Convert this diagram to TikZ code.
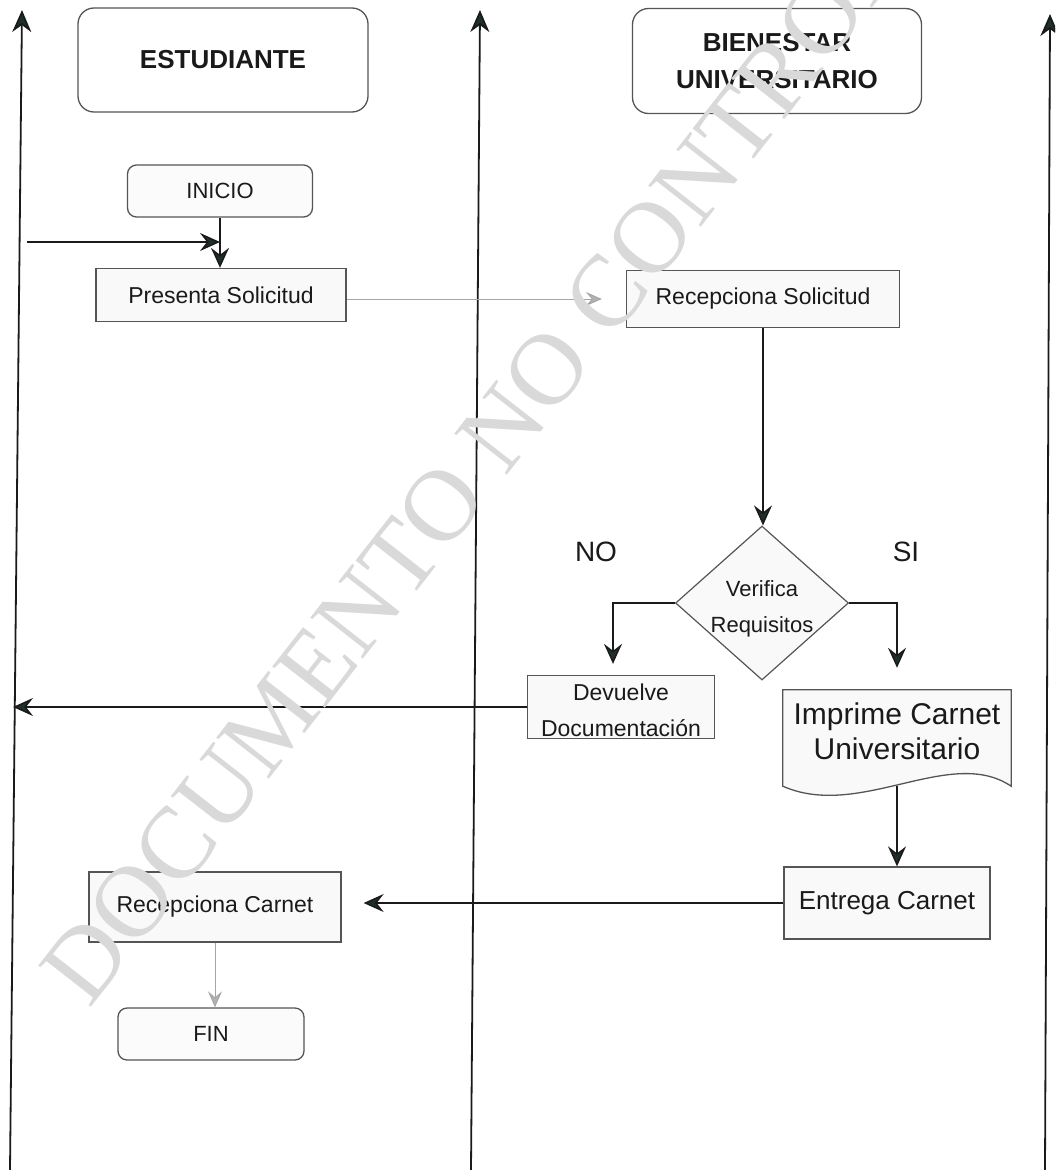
\documentclass[tikz,border=0pt]{standalone}
\usepackage{fontspec}
\setmainfont{Liberation Sans}
\newfontfamily\wmfont{Liberation Serif}
\usepackage{tikz}
\usepackage{xcolor}
\usetikzlibrary{arrows.meta}
\usetikzlibrary{shapes.geometric}

\definecolor{ink}{HTML}{1A1A1A}
\definecolor{tipc}{HTML}{1E302A}
\definecolor{edge}{HTML}{555555}

\tikzset{
  lane/.style={line width=1.8pt, draw=ink, -{Stealth[length=22pt,width=19pt,inset=7pt,fill=tipc]}},
  flow/.style={line width=1.5pt, draw=ink, -{Stealth[length=20pt,width=18pt,inset=7pt,fill=tipc]}},
  softflow/.style={line width=1pt, draw=gray!70, -{Stealth[length=16pt,width=14pt,inset=6pt,fill=gray!60]}},
  head/.style={draw=edge, line width=1.3pt, rounded corners=16pt, fill=white, align=center, font=\fontsize{26}{37}\selectfont\bfseries, text=ink},
  term/.style={draw=edge, line width=1.3pt, rounded corners=9pt, fill=gray!3, font=\fontsize{22}{30}\selectfont, text=ink},
  proc/.style={draw=edge, line width=1.3pt, fill=gray!5, align=center, font=\fontsize{23}{36}\selectfont, text=ink},
  decision/.style={diamond, draw=edge, line width=1.2pt, fill=gray!5, inner sep=0pt},
  ans/.style={font=\fontsize{28}{32}\selectfont, text=ink},
  docbox/.style={minimum width=228pt, minimum height=96pt, inner sep=0pt},
}

\begin{document}
\begin{tikzpicture}[x=1pt,y=-1pt]
\useasboundingbox (0,0) rectangle (1055,1170);
\clip (0,0) rectangle (1055,1170);

% carriles
\draw[lane] (10,1170) -- (22,10);
\draw[lane] (471,1170) -- (480,10);
\draw[lane] (1045,1170) -- (1050,14);

% encabezados
\node[head, minimum width=290pt, minimum height=104pt] (est) at (223,60) {ESTUDIANTE};
\node[head, minimum width=289pt, minimum height=105pt] (bien) at (777,61) {BIENESTAR\\UNIVERSITARIO};

% estudiante
\node[term, minimum width=185pt, minimum height=52pt] (inicio) at (220,191) {INICIO};
\node[proc, minimum width=250pt, minimum height=53pt] (presenta) at (221,295) {Presenta Solicitud};
\node[proc, minimum width=252pt, minimum height=70pt] (reccar) at (215,907) {Recepciona Carnet};
\node[term, minimum width=186pt, minimum height=52pt] (fin) at (211,1034) {FIN};

% bienestar
\node[proc, minimum width=273pt, minimum height=57pt] (recsol) at (763,299) {Recepciona Solicitud};
\node[decision, minimum width=173pt, minimum height=154pt] (verif) at (762,603) {};
\node[align=center, font=\fontsize{22}{36}\selectfont, text=ink] (veriftxt) at ([yshift=-6pt]verif.center) {Verifica\\Requisitos};
\node[ans] (no) at (596,552) {NO};
\node[ans] (si) at (906,552) {SI};
\node[proc, minimum width=187pt, minimum height=63pt] (devuelve) at (621,707) {};
\node[align=center, font=\fontsize{23}{36}\selectfont, text=ink] (devtxt) at ([yshift=-3pt]devuelve.center) {Devuelve\\Documentación};
\node[docbox] (imprime) at (897,738) {};
\draw[draw=edge, line width=1.3pt, fill=gray!5] (imprime.north west) -- (imprime.north east) -- (imprime.south east)
  .. controls +(-61,-41) and +(77,34) .. (imprime.south west) -- cycle;
\node[align=center, font=\fontsize{30}{35}\selectfont, text=ink] (imptxt) at ([yshift=7pt]imprime.center) {Imprime Carnet\\Universitario};
\node[proc, minimum width=206pt, minimum height=72pt, font=\fontsize{26}{30}\selectfont] (entrega) at (887,903) {Entrega Carnet};

% flujos
\coordinate (back) at (27,242);
\draw[flow] (back) -- (back -| inicio.south);
\draw[flow] (inicio.south) -- (inicio.south |- presenta.north);
\draw[softflow, shorten >=24pt] (presenta.east |- recsol.west) -- (recsol.west);
\draw[flow] (recsol.south) -- (recsol.south |- verif.north);
\draw[flow, shorten >=11pt] (verif.west) -| ([xshift=-8pt]devuelve.north);
\draw[flow, shorten >=22pt] (verif.east) -| (imprime.north);
\coordinate (lanel) at (13,707);
\draw[flow] (devuelve.west) -- (devuelve.west -| lanel);
\draw[flow] (imprime.south) -- (imprime.south |- entrega.north);
\draw[flow, shorten >=22pt] (entrega.west) -- (entrega.west -| reccar.east);
\draw[softflow] (reccar.south) -- (reccar.south |- fin.north);

% marca de agua
\node[font={\wmfont\fontsize{102}{102}\selectfont}, text=gray!30, rotate=52] (marca) at (541,378) {DOCUMENTO NO CONTROLADO};
\end{tikzpicture}
\end{document}
